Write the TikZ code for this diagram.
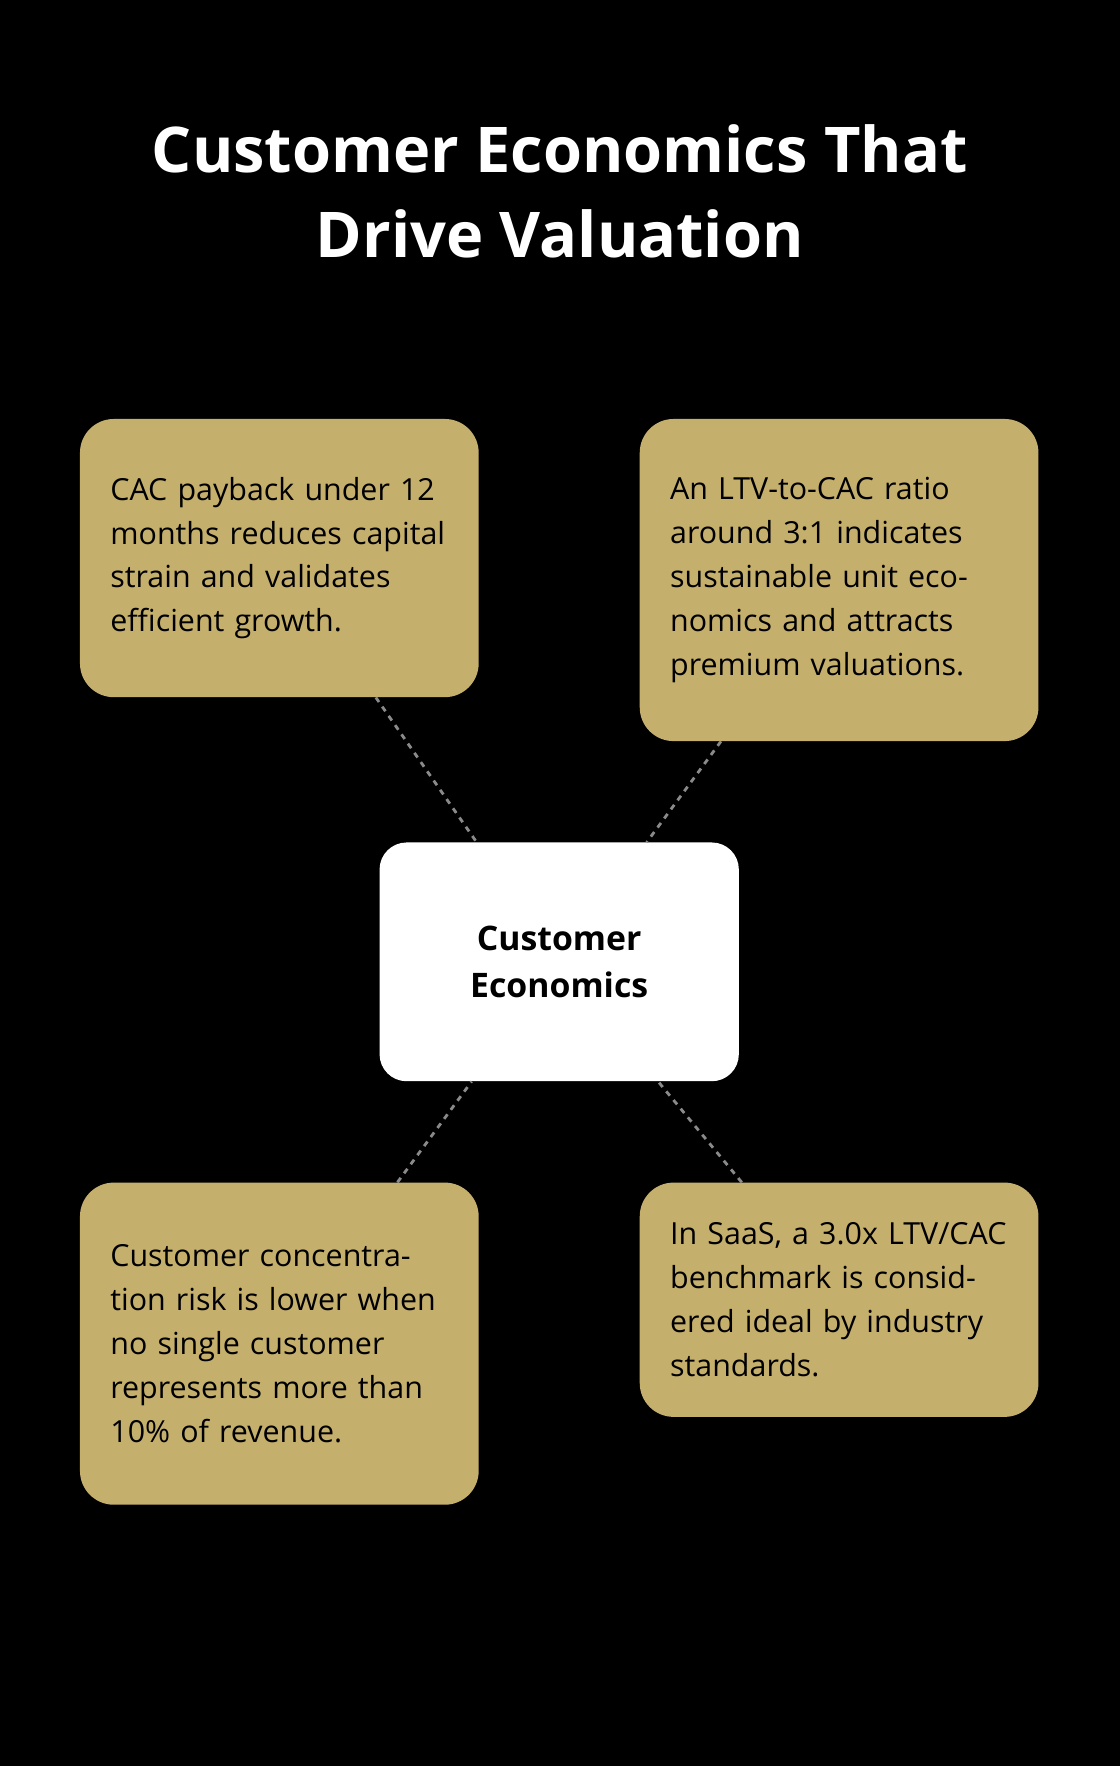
\documentclass[tikz,border=0pt]{standalone}
\usepackage{fontspec}
\setmainfont{Open Sans}
\definecolor{gold}{HTML}{C5AF6C}
\definecolor{dash}{HTML}{8A8A8A}
\begin{document}
\begin{tikzpicture}[x=1pt,y=-1pt,
  card/.style={fill=gold,rounded corners=30pt,minimum width=354pt,text width=300pt,align=left,inner sep=0pt,font=\fontsize{27}{39}\selectfont,text=black},
  hub/.style={fill=white,rounded corners=24pt,minimum width=319pt,minimum height=212pt,align=center,font=\fontsize{30}{42}\selectfont\bfseries},
  link/.style={draw=dash,line width=2.5pt,dash pattern=on 5pt off 5pt}]
\fill[black] (0,0) rectangle (994,1568);
\useasboundingbox (0,0) rectangle (994,1568);
\node[text=white,font=\fontsize{56}{76}\selectfont\bfseries,align=center] (title) at (497,170) {Customer Economics That\\Drive Valuation};
\node[hub] (c) at (496.5,854) {Customer\\Economics};
\node[card,minimum height=247pt] (tl) at (248,495.5) {CAC payback under 12 months reduces capital strain and validates efficient growth.};
\node[card,minimum height=286pt] (tr) at (745,515) {An LTV-to-CAC ratio around 3:1 indicates sustainable unit economics and attracts premium valuations.};
\node[card,minimum height=286pt] (bl) at (248,1193) {Customer concentration risk is lower when no single customer represents more than 10\% of revenue.};
\node[card,minimum height=208pt] (br) at (745,1154) {In SaaS, a 3.0x LTV/CAC benchmark is considered ideal by industry standards.};
\foreach \n in {tl,tr,bl,br} \draw[link] (\n) -- (c);
\end{tikzpicture}
\end{document}
